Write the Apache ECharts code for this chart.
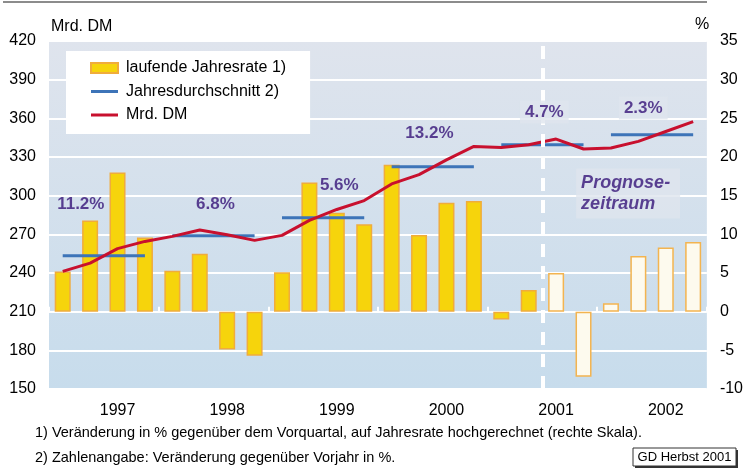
<!DOCTYPE html>
<html>
<head>
<meta charset="utf-8">
<script src="https://cdn.jsdelivr.net/npm/echarts@6/dist/echarts.min.js"></script>
<style>
  html, body { margin: 0; padding: 0; background: #fff; }
  #chart { width: 746px; height: 470px; }
</style>
</head>
<body>
<div id="chart"></div>
<script>
// Quartale 1997-2002
const years = ['1997', '1998', '1999', '2000', '2001', '2002']
const quarters = years.flatMap(y => ['Q1', 'Q2', 'Q3', 'Q4'].map(q => y + ' ' + q))

// laufende Jahresrate in % (rechte Skala)
const rateValues = [5.2, 11.8, 18.0, 9.6, 5.3, 7.5, -4.9, -5.7, 5.1, 16.7, 12.8, 11.3,
                    19.0, 9.9, 14.1, 14.3, -1.0, 2.8, 5.0, -8.4, 1.1, 7.2, 8.3, 9.0]
// Mrd. DM (linke Skala)
const mrdDM = [241.3, 247.7, 258.9, 264.5, 268.4, 273.3, 269.7, 265.3, 269.2, 280.8, 289.3, 296.2,
               309.1, 316.3, 327.8, 338.2, 337.4, 339.5, 343.9, 336.2, 337.0, 342.1, 349.8, 357.5]
// Jahresdurchschnitt in Mrd. DM
const annualAvg = [253.4, 268.9, 282.8, 322.5, 339.5, 347.3]
// Veränderung gegenüber Vorjahr
const avgGrowth = ['11.2%', '6.8%', '5.6%', '13.2%', '4.7%', '2.3%']

const forecastStart = 18 // ab 2001 Q3 Prognose

// Lage der Beschriftungen (Quartal, Mrd. DM)
const growthAt = [[1.16, 293.5], [6.07, 293.5], [10.59, 308.3], [13.88, 348.6], [18.07, 364.9], [21.68, 368]]
const prognoseAt = [19.23, 301.7]

const font = '"Liberation Sans", Arial, sans-serif'
const purple = '#361478'
const boxBg = '#dfe5ee'
// Legendensymbol für Linien (flacher Balken)
const lineIcon = 'path://M0,0H27V3H0Z'

const chart = echarts.init(document.getElementById('chart'))

const avgSeries = annualAvg.map((v, i) => ({
    name: 'Jahresdurchschnitt 2)',
    type: 'line',
    yAxisIndex: 0,
    data: quarters.map((q, k) => Math.floor(k / 4) === i ? v : null),
    symbol: 'none',
    lineStyle: { color: '#3d74b8', width: 3 },
    itemStyle: { color: '#3d74b8' },
    z: 3
}))

const option = {
    animation: false,
    textStyle: { fontFamily: font },
    grid: {
        left: 49, right: 33, top: 41, bottom: 81,
        show: true,
        borderWidth: 0,
        backgroundColor: new echarts.graphic.LinearGradient(0, 0, 0, 1, [
            { offset: 0, color: '#dfe4ed' },
            { offset: 1, color: '#c7dcec' }
        ])
    },
    legend: {
        orient: 'vertical',
        left: 66, top: 51,
        padding: [9, 24, 11, 24],
        backgroundColor: '#fff',
        itemWidth: 27, itemHeight: 10, itemGap: 7.5,
        textStyle: { fontSize: 16, color: '#000', lineHeight: 16, padding: [0, 0, 0, 3] },
        data: [
            { name: 'laufende Jahresrate 1)', icon: 'rect' },
            { name: 'Jahresdurchschnitt 2)', icon: lineIcon, symbolKeepAspect: true },
            { name: 'Mrd. DM', icon: lineIcon, symbolKeepAspect: true }
        ]
    },
    xAxis: [{
        type: 'category',
        data: quarters,
        axisLine: { show: false },
        axisTick: {
            show: true, inside: true, length: 5,
            interval: i => i % 4 === 0,
            lineStyle: { color: '#fff', width: 2 }
        },
        axisLabel: {
            interval: i => i % 4 === 2,
            formatter: v => v.slice(0, 4),
            fontSize: 16, color: '#000', margin: 14
        }
    }, {
        type: 'value', min: 0, max: 24, show: false
    }],
    yAxis: [{
        type: 'value', min: 150, max: 420, interval: 30,
        axisLine: { show: false }, axisTick: { show: false },
        splitLine: { show: false },
        axisLabel: { fontSize: 16, color: '#000', margin: 13 }
    }, {
        type: 'value', min: -10, max: 35, interval: 5,
        axisLine: { show: false }, axisTick: { show: false },
        splitLine: { show: true, lineStyle: { color: '#fff', width: 2 } },
        axisLabel: { fontSize: 16, color: '#000', margin: 13 }
    }],
    series: [
        {
            name: 'laufende Jahresrate 1)',
            type: 'bar',
            yAxisIndex: 1,
            barWidth: 16,
            data: rateValues.map((v, i) => i >= forecastStart
                ? { value: v, itemStyle: { color: '#fdfaee', borderColor: '#f3b450' } }
                : v),
            itemStyle: { color: '#f6d40c', borderColor: '#f0ac3c', borderWidth: 1.5 },
            z: 2
        },
        // Prognose-Trennlinie
        {
            type: 'scatter',
            xAxisIndex: 1,
            yAxisIndex: 0,
            data: [],
            silent: true,
            z: 1,
            markLine: {
                silent: true,
                symbol: ['none', 'none'],
                label: { show: false },
                lineStyle: { color: '#fff', type: [13, 9], width: 4 },
                data: [{ xAxis: forecastStart }]
            }
        },
        ...avgSeries,
        {
            name: 'Mrd. DM',
            type: 'line',
            yAxisIndex: 0,
            data: mrdDM,
            symbol: 'none',
            lineStyle: { color: '#c8102e', width: 3 },
            itemStyle: { color: '#c8102e' },
            z: 4
        },
        // Beschriftungen
        {
            type: 'scatter',
            xAxisIndex: 1,
            yAxisIndex: 0,
            symbolSize: 0,
            silent: true,
            z: 5,
            label: {
                show: true, position: 'inside',
                color: purple, fontWeight: 'bold', fontSize: 17
            },
            data: avgGrowth.map((t, i) => ({
                value: growthAt[i],
                label: i >= 4
                    ? { formatter: t, backgroundColor: boxBg, padding: [3, 5, 3, 5] }
                    : { formatter: t }
            })).concat([{
                value: prognoseAt,
                label: {
                    formatter: 'Prognose-\nzeitraum',
                    fontStyle: 'italic', fontSize: 18, lineHeight: 21,
                    align: 'left', verticalAlign: 'middle',
                    backgroundColor: boxBg, padding: [4, 10, 4, 5]
                }
            }])
        }
    ],
    graphic: [
        { type: 'line', shape: { x1: 3, y1: 2, x2: 707, y2: 2 }, style: { stroke: '#666', lineWidth: 1.5 } },
        { type: 'text', left: 51, top: 19, style: { text: 'Mrd. DM', font: '16px ' + font, fill: '#000' } },
        { type: 'text', left: 695, top: 17, style: { text: '%', font: '16px ' + font, fill: '#000' } },
        { type: 'text', left: 35, top: 425, style: { text: '1) Veränderung in % gegenüber dem Vorquartal, auf Jahresrate hochgerechnet (rechte Skala).', font: '14.5px ' + font, fill: '#000' } },
        { type: 'text', left: 35, top: 450, style: { text: '2) Zahlenangabe: Veränderung gegenüber Vorjahr in %.', font: '14.5px ' + font, fill: '#000' } },
        { type: 'rect', shape: { x: 635, y: 450, width: 103, height: 18 }, style: { fill: '#333' } },
        { type: 'rect', shape: { x: 633, y: 448, width: 103, height: 18 }, style: { fill: '#fff', stroke: '#333', lineWidth: 1 } },
        { type: 'text', x: 684.5, y: 457, style: { text: 'GD Herbst 2001', font: '13px ' + font, fill: '#000', textAlign: 'center', textVerticalAlign: 'middle' } }
    ]
}

chart.setOption(option)
</script>
</body>
</html>
